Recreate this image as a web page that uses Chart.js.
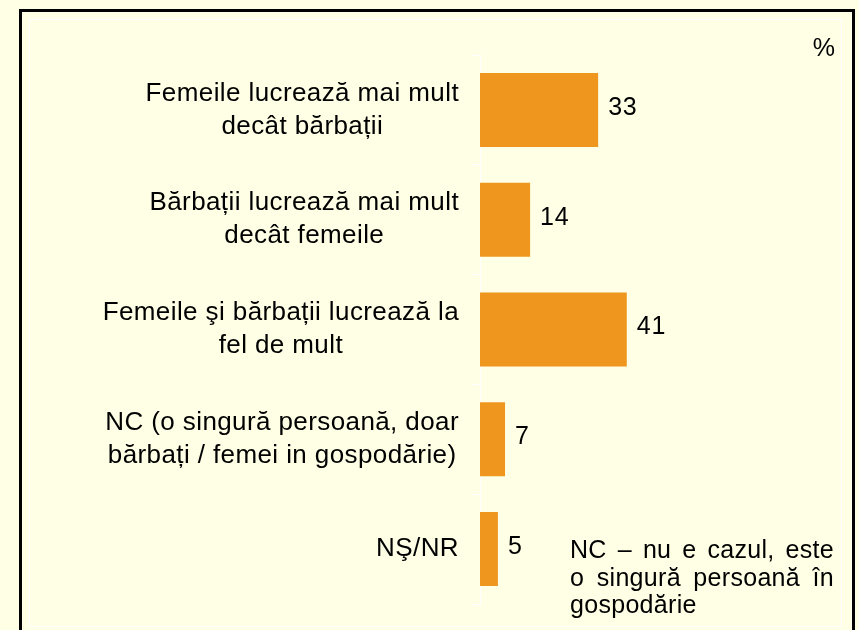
<!DOCTYPE html>
<html>
<head>
<meta charset="utf-8">
<title>Cine lucrează mai mult</title>
<script src="https://cdn.jsdelivr.net/npm/chart.js@4/dist/chart.umd.min.js"></script>
<style>
  html, body { margin: 0; padding: 0; background: #FFFFE5; }
  canvas { display: block; }
</style>
</head>
<body>
<canvas id="workChart" width="859" height="630"></canvas>
<script>
// Answer categories, one entry per bar (each label split into its lines)
const categories = [
    ['Femeile lucrează mai mult', 'decât bărbații'],
    ['Bărbații lucrează mai mult', 'decât femeile'],
    ['Femeile şi bărbații lucrează la', 'fel de mult'],
    ['NC (o singură persoană, doar', 'bărbați / femei in gospodărie)'],
    ['NŞ/NR']
];

// Share of respondents, %
const percentages = [33, 14, 41, 7, 5];

// Range of the value axis
const axisMin = 0;
const axisMax = 100;

// Unit shown in the top right corner and the footnote under it
const unitLabel = '%';
const noteLines = ['NC – nu e cazul, este', 'o singură persoană în', 'gospodărie'];

const LABEL_FONT = '26px "Liberation Sans", Arial, sans-serif';
const SMALL_FONT = '25px "Liberation Sans", Arial, sans-serif';
const BG = '#FFFFE5';
const BAR_COLOR = '#EF961F';

// Background, black frame and the thin white inner frame
const framePlugin = {
    id: 'frame',
    beforeDraw(chart) {
        const ctx = chart.ctx;
        ctx.save();
        ctx.fillStyle = BG;
        ctx.fillRect(0, 0, chart.width, chart.height);
        ctx.strokeStyle = '#FFFFFF';
        ctx.lineWidth = 1;
        ctx.strokeRect(29.5, 19.5, 812, 607);
        ctx.strokeStyle = '#000000';
        ctx.lineWidth = 3;
        ctx.strokeRect(20.5, 10.5, 833, 640);
        ctx.restore();
    }
};

// Footnote with justified lines (last line left aligned)
function drawJustified(ctx, lines, left, right, firstBaseline, lineHeight) {
    ctx.textAlign = 'left';
    ctx.textBaseline = 'alphabetic';
    lines.forEach((line, j) => {
        const y = firstBaseline + j * lineHeight;
        const words = line.split(' ');
        if (j === lines.length - 1 || words.length < 2) {
            ctx.fillText(line, left, y);
            return;
        }
        const wordsWidth = words.reduce((sum, w) => sum + ctx.measureText(w).width, 0);
        const gap = (right - left - wordsWidth) / (words.length - 1);
        let x = left;
        words.forEach((w) => {
            ctx.fillText(w, x, y);
            x += ctx.measureText(w).width + gap;
        });
    });
}

// Category labels, value labels, unit and footnote
const textPlugin = {
    id: 'texts',
    afterDatasetsDraw(chart) {
        const ctx = chart.ctx;
        const yScale = chart.scales.y;
        const labelRight = 459;
        const lineHeight = 33;

        ctx.save();
        ctx.fillStyle = '#000000';

        // each label block is right aligned, its lines centred inside the block
        ctx.font = LABEL_FONT;
        ctx.letterSpacing = '0.4px';
        ctx.textAlign = 'center';
        ctx.textBaseline = 'middle';
        categories.forEach((lines, i) => {
            const y = yScale.getPixelForValue(i);
            const widest = Math.max(...lines.map((l) => ctx.measureText(l).width));
            const cx = labelRight - widest / 2;
            const top = y - (lines.length - 1) * lineHeight / 2;
            lines.forEach((line, j) => ctx.fillText(line, cx, top + j * lineHeight));
        });

        // values next to the bar ends
        ctx.font = SMALL_FONT;
        ctx.letterSpacing = '0.8px';
        ctx.textAlign = 'left';
        const meta = chart.getDatasetMeta(0);
        meta.data.forEach((bar, i) => {
            ctx.fillText(String(percentages[i]), bar.x + 10, bar.y - 2);
        });

        // unit
        ctx.letterSpacing = '0px';
        ctx.textAlign = 'right';
        ctx.textBaseline = 'alphabetic';
        ctx.fillText(unitLabel, 835, 56);

        ctx.letterSpacing = '0.3px';
        drawJustified(ctx, noteLines, 570, 834, 558, 27.5);
        ctx.restore();
    }
};

function drawChart() {
    const ctx = document.getElementById('workChart').getContext('2d');
    new Chart(ctx, {
        type: 'bar',
        data: {
            labels: categories,
            datasets: [{
                data: percentages,
                backgroundColor: BAR_COLOR,
                borderWidth: 0,
                categoryPercentage: 1,
                barPercentage: 0.674
            }]
        },
        options: {
            indexAxis: 'y',
            responsive: false,
            animation: false,
            layout: {
                padding: { left: 472, right: 21, top: 55, bottom: 26 }
            },
            plugins: {
                legend: { display: false },
                tooltip: { enabled: false }
            },
            scales: {
                x: {
                    display: false,
                    min: axisMin,
                    max: axisMax
                },
                y: {
                    ticks: { display: false },
                    grid: {
                        color: '#FFFFFF',
                        drawOnChartArea: false,
                        tickLength: 8
                    },
                    border: { color: '#FFFFFF', width: 1 }
                }
            }
        },
        plugins: [framePlugin, textPlugin]
    });
}

document.addEventListener('DOMContentLoaded', function() {
    drawChart();
});
</script>
</body>
</html>
